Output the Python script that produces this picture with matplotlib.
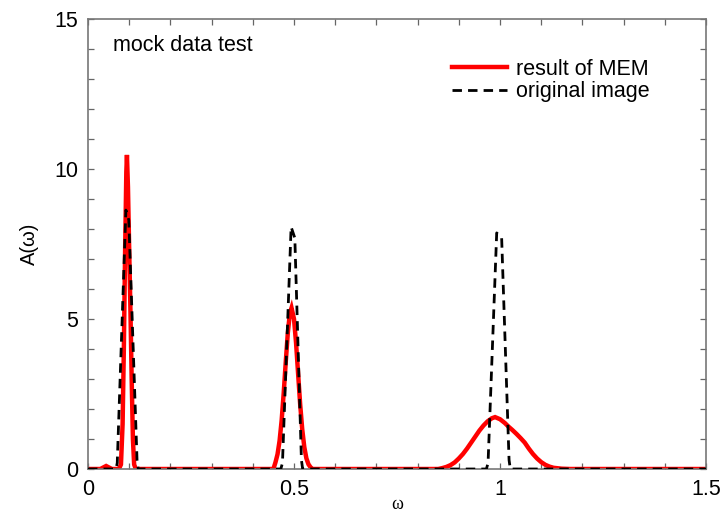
import matplotlib
matplotlib.use("Agg")
import matplotlib.pyplot as plt
from matplotlib.ticker import MultipleLocator, FixedLocator

plt.rcParams['font.family'] = ['Liberation Sans', 'DejaVu Sans']

# MEM result (red)
mem_omega = [0.0, 0.030, 0.037, 0.044, 0.051, 0.058,
             0.075, 0.080, 0.084, 0.087, 0.090, 0.093, 0.0945, 0.097, 0.100, 0.103, 0.106, 0.109, 0.112, 0.116,
             0.450, 0.455, 0.460, 0.465, 0.470, 0.475, 0.480, 0.485, 0.490, 0.494, 0.500, 0.505, 0.510, 0.515,
             0.520, 0.525, 0.530, 0.535, 0.540, 0.545,
             0.85, 0.86, 0.87, 0.88, 0.89, 0.90, 0.91, 0.92, 0.93, 0.94, 0.95, 0.96, 0.97, 0.98, 0.988,
             1.000, 1.012, 1.02, 1.03, 1.04, 1.05, 1.06, 1.07, 1.08, 1.09, 1.10, 1.11, 1.12, 1.13, 1.15, 1.17,
             1.5]
mem_A = [0.0, 0.0, 0.05, 0.10, 0.05, 0.0,
         0.0, 0.15, 1.5, 4.0, 7.2, 9.9, 10.47, 9.4, 7.3, 5.3, 3.0, 1.0, 0.15, 0.0,
         0.0, 0.22, 0.49, 0.94, 1.62, 2.53, 3.57, 4.54, 5.19, 5.37, 5.0, 4.2, 3.17, 2.15,
         1.32, 0.73, 0.36, 0.16, 0.06, 0.0,
         0.0, 0.03, 0.07, 0.13, 0.22, 0.35, 0.50, 0.68, 0.88, 1.08, 1.28, 1.45, 1.59, 1.69, 1.73,
         1.66, 1.53, 1.42, 1.30, 1.17, 1.03, 0.88, 0.68, 0.50, 0.35, 0.23, 0.14, 0.08, 0.04, 0.01, 0.0,
         0.0]

# original image (black dashed)
orig_omega = [0.0, 0.068, 0.071, 0.092, 0.099, 0.119, 0.122,
              0.468, 0.472, 0.493, 0.502, 0.518, 0.521,
              0.967, 0.971, 0.992, 1.004, 1.022, 1.025, 1.5]
orig_A = [0.0, 0.0, 0.2, 8.63, 8.3, 0.3, 0.0,
          0.0, 0.2, 8.07, 7.7, 0.3, 0.0,
          0.0, 0.2, 7.87, 7.7, 0.3, 0.0, 0.0]

x_ticklabels = ['0', '0.5', '1', '1.5']
y_ticklabels = ['0', '5', '10', '15']

fig = plt.figure(figsize=(7.26, 5.19), dpi=100)
ax = fig.add_axes([88/726, 1-469/519, 618/726, 450/519])

ax.plot(mem_omega, mem_A, color='#ff0000', lw=3.2, solid_joinstyle='miter', label='result of MEM', zorder=2)
ax.plot(orig_omega, orig_A, color='black', lw=2.0, dashes=(3.4, 2.2), label='original image', zorder=3)

ax.set_xlim(0, 1.5)
ax.set_ylim(0, 15)
ax.xaxis.set_major_locator(FixedLocator([0, 0.5, 1.0, 1.5]))
ax.set_xticklabels(x_ticklabels)
ax.xaxis.set_minor_locator(MultipleLocator(0.1))
ax.yaxis.set_major_locator(FixedLocator([0, 5, 10, 15]))
ax.set_yticklabels(y_ticklabels)
ax.yaxis.set_minor_locator(MultipleLocator(1))
for which in ('major', 'minor'):
    ax.tick_params(axis='both', which=which, direction='in', length=4, width=0.9,
                   color='#666666', top=True, right=True)
ax.tick_params(axis='both', which='major', labelsize=15.5, pad=7)
for s in ax.spines.values():
    s.set_color('#777777')
    s.set_linewidth(1.2)

ax.set_ylabel('A(ω)', fontsize=14.5, labelpad=11)
ax.set_xlabel('ω', fontsize=13, family=['Liberation Serif', 'DejaVu Serif'])
ax.xaxis.set_label_coords(0.5, -(496 - 469) / 450)

ax.text(0.0405, 0.942, 'mock data test', transform=ax.transAxes, fontsize=15.5,
        ha='left', va='center')

leg = ax.legend(loc='upper left', bbox_to_anchor=((452-88)/618, (469-59)/450), frameon=False,
                fontsize=15.5, handlelength=2.55, handletextpad=0.4, labelspacing=0.05,
                borderpad=0, borderaxespad=0)

fig.savefig('out.png', dpi=100)
